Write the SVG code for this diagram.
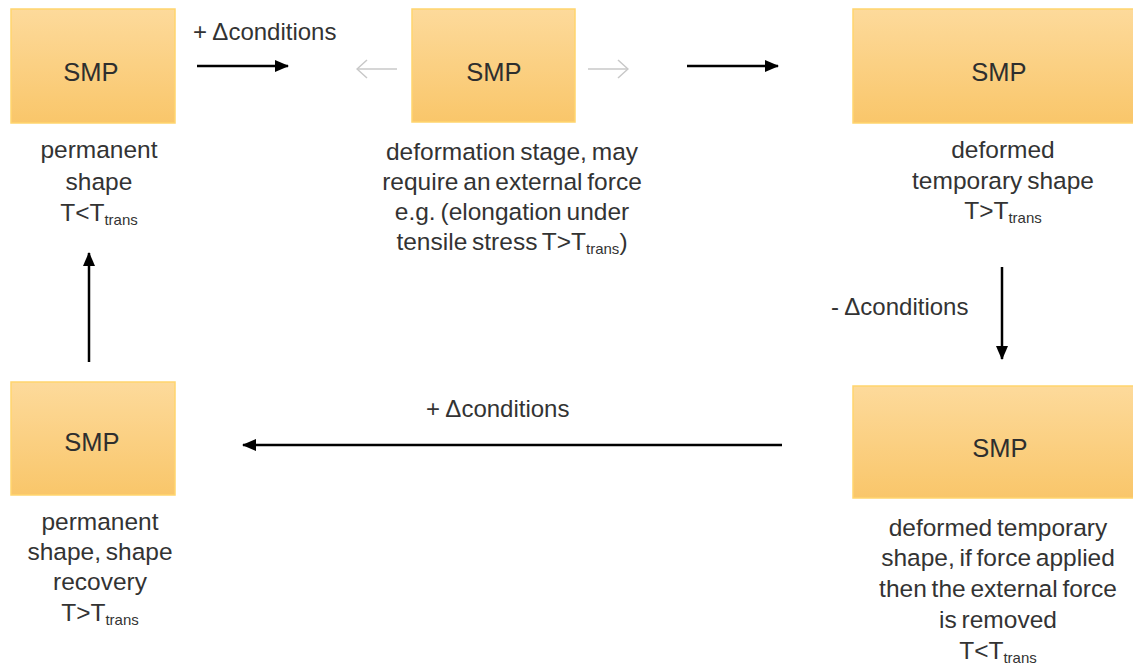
<svg xmlns="http://www.w3.org/2000/svg" width="1133" height="666" viewBox="0 0 1133 666">
<defs>
<linearGradient id="g" x1="0" y1="0" x2="0" y2="1">
<stop offset="0" stop-color="#FDDA9B"/>
<stop offset="1" stop-color="#F9C66A"/>
</linearGradient>
<marker id="ah" viewBox="0 0 14 12" refX="13" refY="6" markerWidth="14" markerHeight="12" markerUnits="userSpaceOnUse" orient="auto">
<path d="M0,0 L14,6 L0,12 Z" fill="#000"/>
</marker>
<marker id="ag" viewBox="0 0 12 20" refX="11" refY="10" markerWidth="12" markerHeight="20" markerUnits="userSpaceOnUse" orient="auto">
<path d="M1,1 L11,10 L1,19" fill="none" stroke="#C8C8C8" stroke-width="1.5"/>
</marker>
</defs>
<style>
.box{fill:url(#g);stroke:#FFD56E;stroke-width:1.5}
.smp{font-family:"Liberation Sans",Arial,sans-serif;font-size:25.5px;fill:#2e2e2e;text-anchor:middle}
.lbl{font-family:"Liberation Sans",Arial,sans-serif;font-size:24.5px;fill:#333;text-anchor:middle;word-spacing:-2px}
.sub{font-size:15px}
.cond{font-family:"Liberation Sans",Arial,sans-serif;font-size:24px;fill:#333}
.arr{stroke:#000;stroke-width:2.5;fill:none;marker-end:url(#ah)}
.garr{stroke:#C8C8C8;stroke-width:1.5;fill:none;marker-end:url(#ag)}
</style>
<rect width="1133" height="666" fill="#fff"/>
<g id="node1">
<rect class="box" x="11" y="9" width="164" height="114"/>
<text class="smp" x="91" y="81">SMP</text>
<text class="lbl" x="99" y="158">permanent</text>
<text class="lbl" x="99" y="190">shape</text>
<text class="lbl" x="99" y="221">T&lt;T<tspan class="sub" dy="4">trans</tspan></text>
</g>
<g id="node2">
<rect class="box" x="412" y="9" width="163" height="113"/>
<text class="smp" x="494" y="81">SMP</text>
<text class="lbl" x="512" y="160">deformation stage, may</text>
<text class="lbl" x="512" y="190">require an external force</text>
<text class="lbl" x="512" y="220">e.g. (elongation under</text>
<text class="lbl" x="512" y="250">tensile stress T&gt;T<tspan class="sub" dy="4">trans</tspan><tspan dy="-4">)</tspan></text>
</g>
<g id="node3">
<rect class="box" x="853" y="9" width="290" height="114"/>
<text class="smp" x="999" y="81">SMP</text>
<text class="lbl" x="1003" y="158">deformed</text>
<text class="lbl" x="1003" y="189">temporary shape</text>
<text class="lbl" x="1003" y="219">T&gt;T<tspan class="sub" dy="4">trans</tspan></text>
</g>
<g id="node4">
<rect class="box" x="11" y="382" width="164" height="113"/>
<text class="smp" x="92" y="451">SMP</text>
<text class="lbl" x="100" y="530">permanent</text>
<text class="lbl" x="100" y="560">shape, shape</text>
<text class="lbl" x="100" y="590">recovery</text>
<text class="lbl" x="100" y="621">T&gt;T<tspan class="sub" dy="4">trans</tspan></text>
</g>
<g id="node5">
<rect class="box" x="853" y="386" width="290" height="112"/>
<text class="smp" x="1000" y="457">SMP</text>
<text class="lbl" x="998" y="536">deformed temporary</text>
<text class="lbl" x="998" y="566">shape, if force applied</text>
<text class="lbl" x="998" y="597">then the external force</text>
<text class="lbl" x="998" y="628">is removed</text>
<text class="lbl" x="998" y="659">T&lt;T<tspan class="sub" dy="4">trans</tspan></text>
</g>
<g id="connectors">
<line class="arr" x1="197" y1="66" x2="288" y2="66"/>
<text class="cond" x="193" y="40">+ Δconditions</text>
<line class="garr" x1="397" y1="69" x2="357" y2="69"/>
<line class="garr" x1="588" y1="69" x2="628" y2="69"/>
<line class="arr" x1="687" y1="66" x2="778" y2="66"/>
<line class="arr" x1="1002" y1="267" x2="1002" y2="359"/>
<text class="cond" x="831" y="315">- Δconditions</text>
<line class="arr" x1="782" y1="445" x2="243" y2="445"/>
<text class="cond" x="426" y="417">+ Δconditions</text>
<line class="arr" x1="89" y1="362" x2="89" y2="253"/>
</g>
</svg>
